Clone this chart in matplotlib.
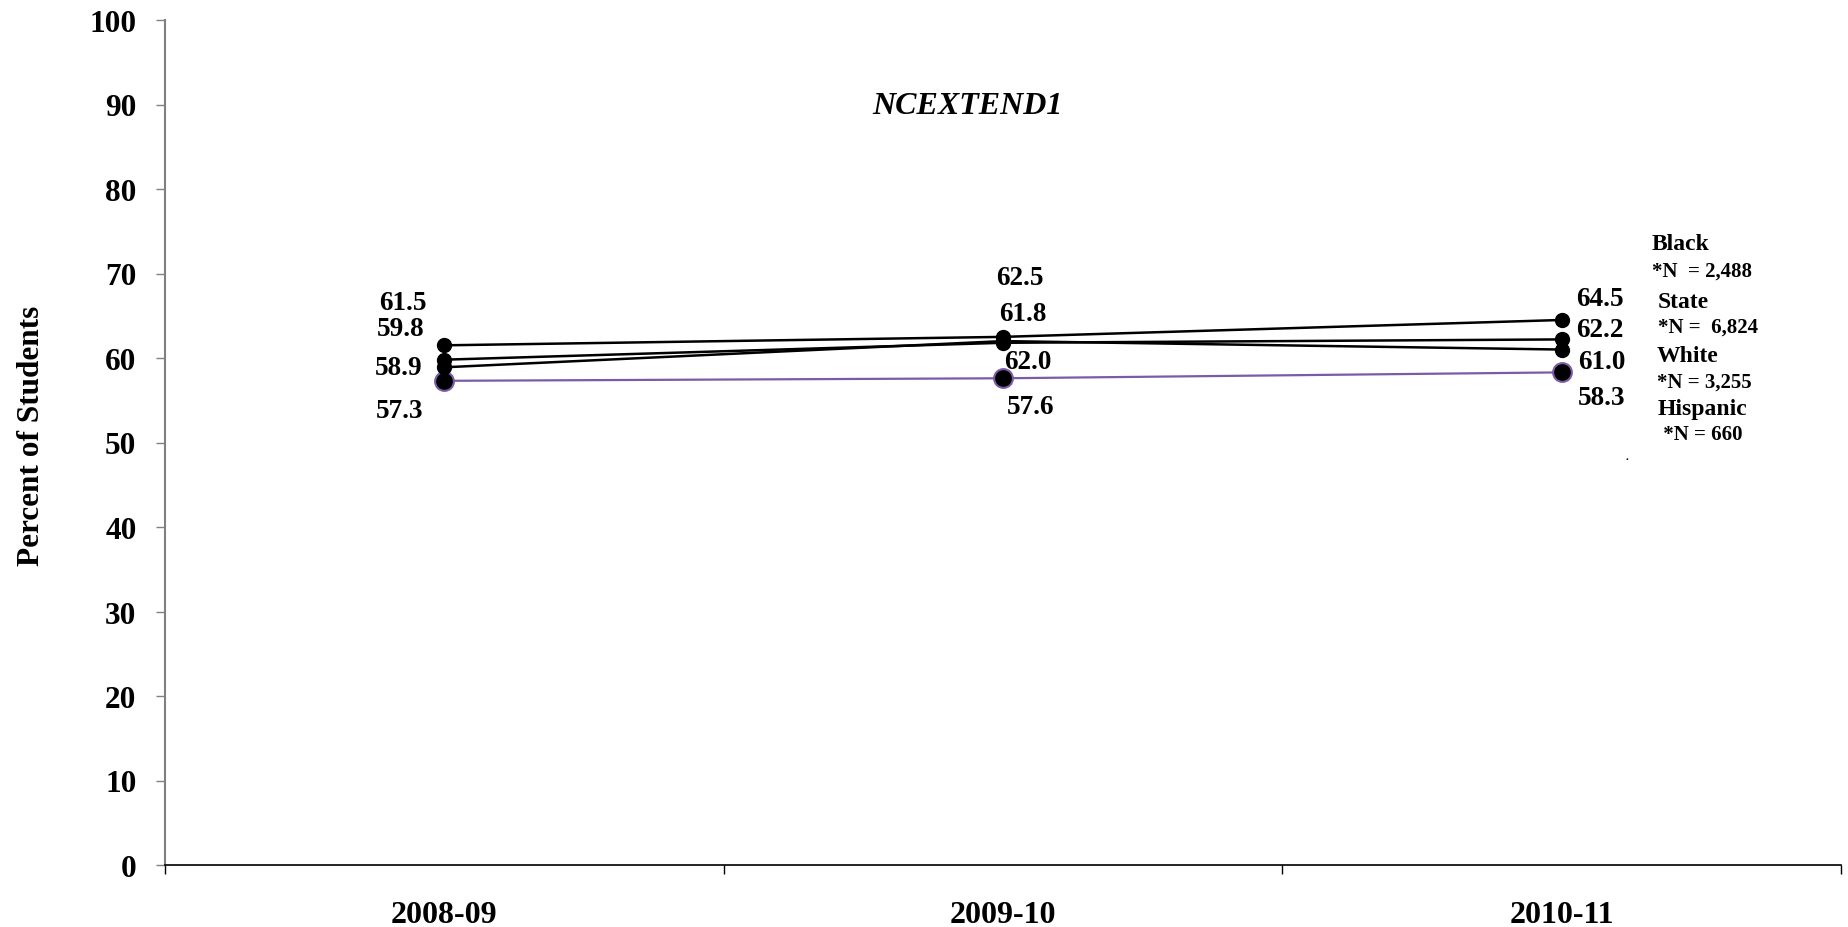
import numpy as np
import matplotlib
matplotlib.use("Agg")
import matplotlib.pyplot as plt

plt.rcParams["font.family"] = ["Liberation Serif", "DejaVu Serif"]
plt.rcParams["font.weight"] = "bold"

years = ["2008-09", "2009-10", "2010-11"]
groups = ["Black", "State", "White", "Hispanic"]
group_n = ["*N  = 2,488", "*N =  6,824", "*N = 3,255", " *N = 660"]
black = [61.5, 62.5, 64.5]
state = [59.8, 61.8, 62.2]
white = [58.9, 62.0, 61.0]
hispanic = [57.3, 57.6, 58.3]
title = "NCEXTEND1"
ylabel = "Percent of Students"

# label offsets in pixels (dx, dy) for each series / year
offsets = {
    "Black": [(-41, 43), (17, 59), (38, 21)],
    "State": [(-44, 31), (20, 29), (38, 10)],
    "White": [(-46, 0), (25, -20), (40, -12)],
    "Hispanic": [(-45, -30), (28, -28), (40, -25)],
}
px = 0.72  # points per pixel at dpi 100

fig = plt.figure(figsize=(18.48, 9.28), dpi=100)
ax = fig.add_axes([165 / 1848, 62 / 928, (1841 - 165) / 1848, (866 - 21) / 928])

x = np.arange(len(years))
purple = "#7b5aa6"
series = [("Black", black), ("State", state), ("White", white), ("Hispanic", hispanic)]
for name, vals in series:
    if name == "Hispanic":
        ax.plot(x, vals, color=purple, lw=1.6, marker="o", ms=13.5,
                mfc="black", mec=purple, mew=1.5, zorder=3)
    else:
        ax.plot(x, vals, color="black", lw=1.8, marker="o", ms=10,
                mfc="black", mec="black", zorder=4)
    for i, v in enumerate(vals):
        dx, dy = offsets[name][i]
        ax.annotate("{:.1f}".format(v), (x[i], v), xytext=(dx * px, dy * px),
                    textcoords="offset points", ha="center", va="center",
                    fontsize=19.5, fontweight="bold")

ax.set_xlim(-0.5, 2.5)
ax.set_ylim(0, 100)
ax.set_yticks(np.arange(0, 101, 10))
ax.tick_params(axis="y", labelsize=22.5, length=6.5, width=1, pad=14, color="#808080")
ax.set_xticks(x)
ax.set_xticklabels(years)
ax.tick_params(axis="x", which="major", labelsize=23, length=0, pad=25)
ax.set_xticks([-0.5, 0.5, 1.5, 2.5], minor=True)
ax.tick_params(axis="x", which="minor", length=6.5, width=1, color="black")
for lab in ax.get_xticklabels() + ax.get_yticklabels():
    lab.set_fontweight("bold")
ax.spines["top"].set_visible(False)
ax.spines["right"].set_visible(False)
ax.spines["left"].set_color("#808080")
ax.spines["left"].set_linewidth(1.5)
ax.spines["bottom"].set_linewidth(1.2)

fig.text(32 / 1848, 1 - 436 / 928, ylabel, rotation=90, ha="center", va="center",
         fontsize=22.5, fontweight="bold")
fig.text(967 / 1848, 1 - 107 / 928, title, ha="center", va="center",
         fontsize=23, fontweight="bold", style="italic")

# group / N legend text on the right
legend_pos = [(1652, 245, 272), (1658, 302, 328), (1657, 357, 383), (1658, 410, 435)]
for (name, nstr), (lx, ny, ly) in zip(zip(groups, group_n), legend_pos):
    fig.text(lx / 1848, 1 - ny / 928, name, ha="left", va="center",
             fontsize=17, fontweight="bold")
    fig.text(lx / 1848, 1 - ly / 928, nstr, ha="left", va="center",
             fontsize=15, fontweight="bold")
fig.text(1627 / 1848, 1 - 458 / 928, ".", ha="center", va="center", fontsize=8)

fig.savefig("out.png", dpi=100)
